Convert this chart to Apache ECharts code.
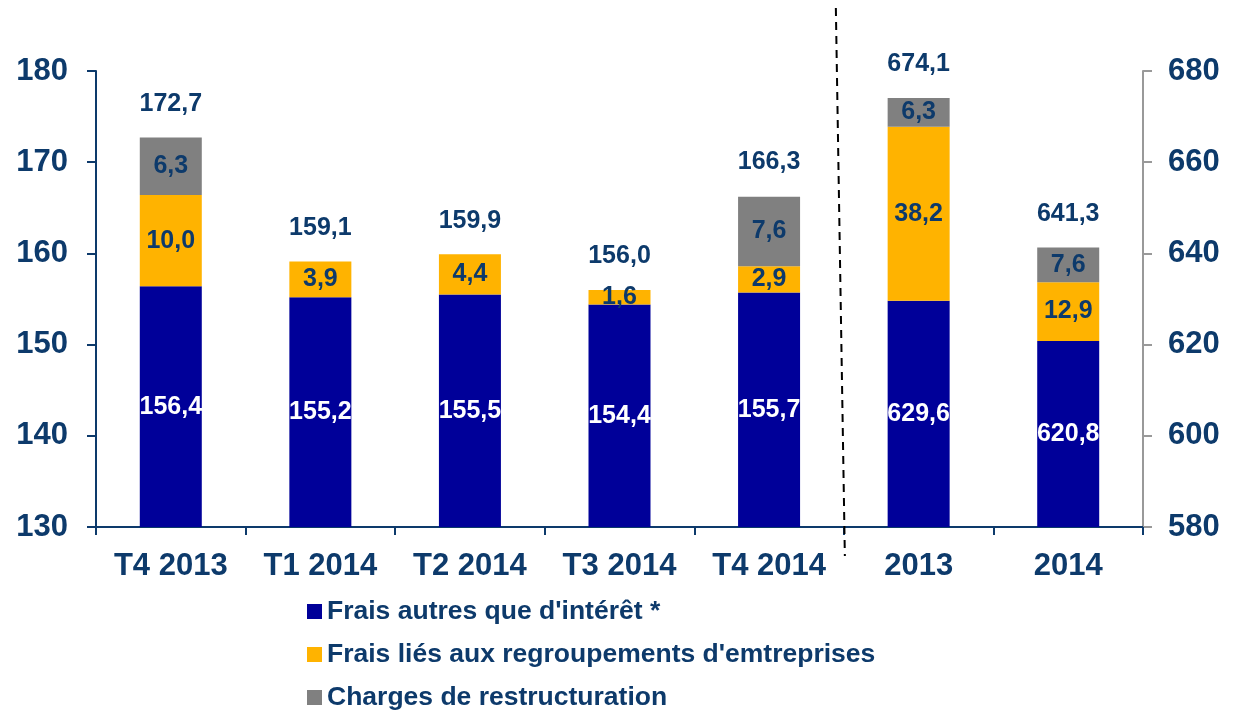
<!DOCTYPE html>
<html>
<head>
<meta charset="utf-8">
<script src="https://cdn.jsdelivr.net/npm/echarts@6/dist/echarts.min.js"></script>
<style>
  html, body { margin: 0; padding: 0; background: #fff; }
  #main { width: 1239px; height: 714px; }
</style>
</head>
<body>
<div id="main"></div>
<script>
// data
var categories = ['T4 2013', 'T1 2014', 'T2 2014', 'T3 2014', 'T4 2014', '2013', '2014']
var fraisAutres = [156.4, 155.2, 155.5, 154.4, 155.7, 629.6, 620.8]
var fraisRegroupement = [10.0, 3.9, 4.4, 1.6, 2.9, 38.2, 12.9]
var restructuration = [6.3, null, null, null, 7.6, 6.3, 7.6]
var totals = [172.7, 159.1, 159.9, 156.0, 166.3, 674.1, 641.3]
var quarterCount = 5 // first 5 categories use left axis, the rest the right axis

var names = ["Frais autres que d'intérêt *", "Frais liés aux regroupements d'emtreprises", 'Charges de restructuration']
var colors = ['#000099', '#FFB300', '#808080']
var navy = '#0d3a6b'
var font = '"Liberation Sans", Arial, sans-serif'

function fmt(v) {
    return v.toFixed(1).replace('.', ',')
}
// split a list in quarterly part / annual part
function part(arr, annual) {
    return arr.map(function (v, i) {
        var isAnnual = i >= quarterCount
        if (isAnnual !== annual || v === null) return '-'
        return v
    })
}

var series = []
;[false, true].forEach(function (annual) {
    var lists = [fraisAutres, fraisRegroupement, restructuration]
    lists.forEach(function (list, k) {
        series.push({
            name: names[k],
            type: 'bar',
            stack: annual ? 'annual' : 'quarter',
            yAxisIndex: annual ? 1 : 0,
            barWidth: 62,
            barGap: '-100%',
            data: part(list, annual),
            itemStyle: { color: colors[k] },
            label: {
                show: true,
                position: 'inside',
                color: k === 0 ? '#fff' : navy,
                fontFamily: font,
                fontWeight: 'bold',
                fontSize: 25,
                formatter: function (p) { return fmt(p.value) }
            }
        })
    })
    // totals above each bar
    series.push({
        name: 'total',
        type: 'scatter',
        yAxisIndex: annual ? 1 : 0,
        symbolSize: 0,
        itemStyle: { color: navy, opacity: 1 },
        data: part(totals, annual),
        label: {
            show: true,
            position: 'top',
            distance: 21,
            color: navy,
            fontFamily: font,
            fontWeight: 'bold',
            fontSize: 25,
            formatter: function (p) { return fmt(p.value) }
        },
        z: 5
    })
})

var chart = echarts.init(document.getElementById('main'))
var option = {
    animation: false,
    grid: { left: 96, right: 96, top: 71, bottom: 187 },
    legend: {
        data: names,
        orient: 'vertical',
        left: 302,
        top: 593,
        height: 160,
        icon: 'rect',
        itemWidth: 15,
        itemHeight: 15,
        itemGap: 16,
        selectedMode: false,
        textStyle: { color: navy, fontFamily: font, fontWeight: 'bold', fontSize: 26.5 }
    },
    xAxis: {
        type: 'category',
        data: categories,
        axisLine: { lineStyle: { color: navy, width: 2 } },
        axisTick: { show: true, length: 8, lineStyle: { color: navy, width: 2 } },
        axisLabel: { color: navy, fontFamily: font, fontWeight: 'bold', fontSize: 31, margin: 24 }
    },
    yAxis: [{
        type: 'value',
        min: 130,
        max: 180,
        interval: 10,
        splitLine: { show: false },
        axisLine: { show: true, lineStyle: { color: navy, width: 2 } },
        axisTick: { show: true, length: 9, lineStyle: { color: navy, width: 2 } },
        axisLabel: { color: navy, fontFamily: font, fontWeight: 'bold', fontSize: 31, margin: 28 }
    }, {
        type: 'value',
        min: 580,
        max: 680,
        interval: 20,
        splitLine: { show: false },
        axisLine: { show: true, lineStyle: { color: '#999', width: 2 } },
        axisTick: { show: true, length: 9, lineStyle: { color: '#999', width: 2 } },
        axisLabel: { color: navy, fontFamily: font, fontWeight: 'bold', fontSize: 31, margin: 25 }
    }],
    series: series
}
chart.setOption(option)

// dashed separator between quarters and years
var a = chart.convertToPixel({ xAxisIndex: 0 }, categories[quarterCount - 1])
var b = chart.convertToPixel({ xAxisIndex: 0 }, categories[quarterCount])
var bx = (a + b) / 2
chart.setOption({
    graphic: [{
        type: 'line',
        shape: { x1: bx - 8, y1: 8, x2: bx + 1, y2: 556 },
        style: { stroke: '#000', lineWidth: 2, lineDash: [8, 6] },
        z: 10
    }]
})
</script>
</body>
</html>
